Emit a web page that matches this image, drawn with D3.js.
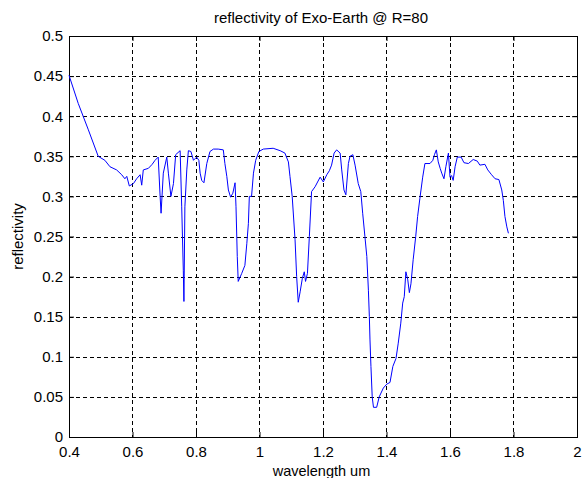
<!DOCTYPE html>
<html>
<head>
<meta charset="utf-8">
<script src="https://cdn.jsdelivr.net/npm/d3@7"></script>
<style>
  body { margin: 0; background: #fff; }
  text { font-family: "Liberation Sans", Arial, sans-serif; fill: #000; }
</style>
</head>
<body>
<div id="chart"></div>
<script>
// wavelength (um) and reflectivity
const wavelength = [
  0.400, 0.429, 0.461, 0.492, 0.513, 0.529, 0.550, 0.566, 0.576, 0.582, 0.590, 0.603,
  0.613, 0.624, 0.629, 0.634, 0.650, 0.662, 0.671, 0.681, 0.687, 0.690, 0.697, 0.708,
  0.713, 0.721, 0.729, 0.736, 0.750, 0.755, 0.760, 0.762, 0.765, 0.771, 0.776, 0.784,
  0.792, 0.802, 0.809, 0.813, 0.818, 0.825, 0.834, 0.844, 0.855, 0.870, 0.886, 0.891,
  0.897, 0.902, 0.909, 0.916, 0.923, 0.926, 0.930, 0.933, 0.944, 0.954, 0.960, 0.965,
  0.968, 0.975, 0.981, 0.988, 0.998, 1.012, 1.043, 1.065, 1.080, 1.091, 1.096, 1.103,
  1.112, 1.117, 1.122, 1.128, 1.135, 1.141, 1.145, 1.151, 1.157, 1.164, 1.175, 1.191,
  1.201, 1.212, 1.220, 1.227, 1.235, 1.243, 1.254, 1.259, 1.266, 1.272, 1.280, 1.285,
  1.294, 1.301, 1.311, 1.319, 1.325, 1.332, 1.338, 1.343, 1.346, 1.348, 1.351, 1.355,
  1.359, 1.369, 1.377, 1.390, 1.401, 1.411, 1.420, 1.430, 1.437, 1.445, 1.451, 1.456,
  1.461, 1.467, 1.472, 1.477, 1.484, 1.492, 1.498, 1.505, 1.514, 1.521, 1.537, 1.546,
  1.551, 1.557, 1.563, 1.569, 1.574, 1.581, 1.587, 1.595, 1.600, 1.605, 1.610, 1.616,
  1.623, 1.635, 1.644, 1.658, 1.673, 1.686, 1.694, 1.710, 1.719, 1.731, 1.742, 1.754,
  1.763, 1.768, 1.773, 1.779, 1.784
];
const reflectivity = [
  0.451, 0.416, 0.383, 0.350, 0.345, 0.337, 0.333, 0.327, 0.322, 0.325, 0.313, 0.316,
  0.322, 0.327, 0.314, 0.333, 0.335, 0.340, 0.345, 0.349, 0.300, 0.279, 0.329, 0.349,
  0.329, 0.300, 0.316, 0.352, 0.357, 0.287, 0.208, 0.169, 0.287, 0.333, 0.357, 0.356,
  0.345, 0.349, 0.345, 0.329, 0.320, 0.317, 0.341, 0.356, 0.359, 0.359, 0.358, 0.341,
  0.325, 0.308, 0.299, 0.304, 0.317, 0.287, 0.225, 0.194, 0.204, 0.214, 0.241, 0.266,
  0.300, 0.300, 0.329, 0.345, 0.356, 0.359, 0.360, 0.357, 0.354, 0.343, 0.325, 0.300,
  0.246, 0.200, 0.168, 0.181, 0.198, 0.206, 0.194, 0.204, 0.250, 0.306, 0.312, 0.324,
  0.318, 0.327, 0.332, 0.339, 0.354, 0.358, 0.354, 0.333, 0.308, 0.302, 0.341, 0.350,
  0.352, 0.339, 0.316, 0.306, 0.279, 0.250, 0.225, 0.183, 0.150, 0.121, 0.088, 0.050,
  0.037, 0.037, 0.050, 0.061, 0.066, 0.068, 0.088, 0.098, 0.117, 0.142, 0.167, 0.175,
  0.206, 0.196, 0.180, 0.191, 0.221, 0.250, 0.275, 0.297, 0.324, 0.341, 0.341, 0.345,
  0.352, 0.358, 0.343, 0.335, 0.329, 0.322, 0.337, 0.354, 0.324, 0.326, 0.320, 0.337,
  0.349, 0.349, 0.342, 0.341, 0.346, 0.344, 0.339, 0.340, 0.333, 0.327, 0.322, 0.321,
  0.308, 0.295, 0.275, 0.262, 0.254
];
const xTicks = [0.4, 0.6, 0.8, 1, 1.2, 1.4, 1.6, 1.8, 2];
const yTicks = [0, 0.05, 0.1, 0.15, 0.2, 0.25, 0.3, 0.35, 0.4, 0.45, 0.5];

const W = 583, H = 478;
const margin = { top: 36, right: 6, bottom: 41, left: 69 };
const width = W - margin.left - margin.right;
const height = H - margin.top - margin.bottom;

const svg = d3.select('#chart')
  .append('svg')
  .attr('width', W)
  .attr('height', H);

const g = svg.append('g')
  .attr('transform', `translate(${margin.left},${margin.top})`);

const x = d3.scaleLinear().domain([0.4, 2]).range([0, width]);
const y = d3.scaleLinear().domain([0, 0.5]).range([height, 0]);

// dashed grid
g.append('g')
  .selectAll('line')
  .data(xTicks.slice(1, -1))
  .enter().append('line')
  .attr('x1', d => Math.round(x(d)) + 0.5)
  .attr('x2', d => Math.round(x(d)) + 0.5)
  .attr('y1', 0)
  .attr('y2', height)
  .attr('stroke', '#000')
  .attr('stroke-dasharray', '4,3');

g.append('g')
  .selectAll('line')
  .data(yTicks.slice(1, -1))
  .enter().append('line')
  .attr('y1', d => Math.round(y(d)) + 0.5)
  .attr('y2', d => Math.round(y(d)) + 0.5)
  .attr('x1', 0)
  .attr('x2', width)
  .attr('stroke', '#000')
  .attr('stroke-dasharray', '4,3');

// axes with inner ticks
const fmt = d => String(d);
g.append('g')
  .attr('transform', `translate(0,${height})`)
  .call(d3.axisBottom(x).tickValues(xTicks).tickSizeInner(-5).tickSizeOuter(0).tickPadding(9).tickFormat(fmt));
g.append('g')
  .call(d3.axisLeft(y).tickValues(yTicks).tickSizeInner(-5).tickSizeOuter(0).tickPadding(6).tickFormat(fmt));
g.append('g')
  .call(d3.axisTop(x).tickValues(xTicks).tickSizeInner(-5).tickSizeOuter(0).tickFormat(''));
g.append('g')
  .attr('transform', `translate(${width},0)`)
  .call(d3.axisRight(y).tickValues(yTicks).tickSizeInner(-5).tickSizeOuter(0).tickFormat(''));

g.selectAll('.domain').remove();
g.selectAll('.tick line').attr('stroke', '#000');
g.selectAll('.tick text')
  .style('font-size', '15px')
  .style('font-family', '"Liberation Sans", Arial, sans-serif')
  .attr('fill', '#000');

// box
g.append('rect')
  .attr('x', 0.5)
  .attr('y', 0.5)
  .attr('width', width)
  .attr('height', height)
  .attr('fill', 'none')
  .attr('stroke', '#000');

// curve
const pts = wavelength.map((w, i) => [w, reflectivity[i]]);
const line = d3.line()
  .x(d => x(d[0]))
  .y(d => y(d[1]));

g.append('path')
  .datum(pts)
  .attr('fill', 'none')
  .attr('stroke', '#0000ff')
  .attr('stroke-width', 1)
  .attr('d', line);

// labels
svg.append('text')
  .attr('x', 321)
  .attr('y', 23)
  .attr('text-anchor', 'middle')
  .style('font-size', '15px')
  .text('reflectivity of Exo-Earth @ R=80');

svg.append('text')
  .attr('x', 321.5)
  .attr('y', 476)
  .attr('text-anchor', 'middle')
  .style('font-size', '14.5px')
  .text('wavelength um');

svg.append('text')
  .attr('transform', `translate(23,${margin.top + height / 2}) rotate(-90)`)
  .attr('text-anchor', 'middle')
  .style('font-size', '15px')
  .text('reflectivity');
</script>
</body>
</html>
